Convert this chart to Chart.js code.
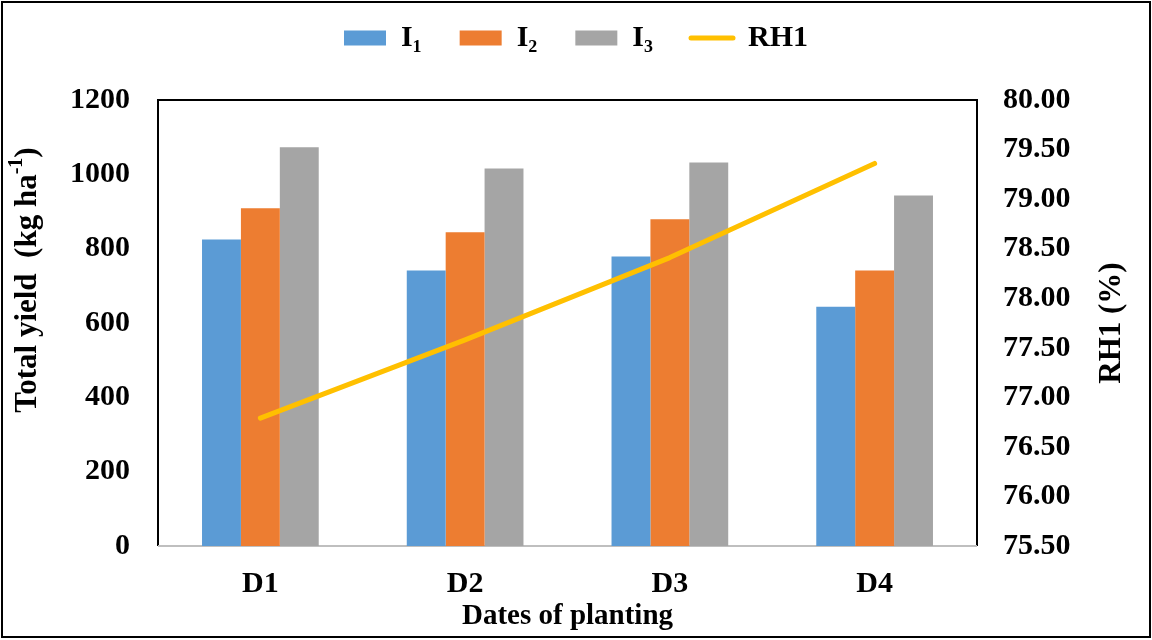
<!DOCTYPE html>
<html>
<head>
<meta charset="utf-8">
<script src="https://cdn.jsdelivr.net/npm/chart.js@4.4.1/dist/chart.umd.min.js"></script>
<style>
  html, body { margin: 0; padding: 0; background: #fff; }
  #wrap { width: 1152px; height: 640px; }
</style>
</head>
<body>
<div id="wrap"><canvas id="yieldChart" width="1152" height="640"></canvas></div>
<script>
const dates = ['D1', 'D2', 'D3', 'D4'];
const i1Yield = [825, 741, 779, 644];
const i2Yield = [909, 844, 879, 741];
const i3Yield = [1073, 1016, 1032, 943];
const rh1 = [76.79, 77.58, 78.41, 79.36];

const serif = "'Liberation Serif', 'Times New Roman', serif";

// frame, outer border and the two vertical axis titles
const framePlugin = {
    id: 'frame',
    beforeDraw(chart) {
        const c = chart.ctx;
        c.save();
        c.fillStyle = '#fff';
        c.fillRect(0, 0, chart.width, chart.height);
        c.restore();
    },
    beforeDatasetsDraw(chart) {
        const c = chart.ctx, a = chart.chartArea;
        c.save();
        c.strokeStyle = '#000';
        c.lineWidth = 2;
        c.beginPath();
        c.moveTo(a.left, a.bottom);
        c.lineTo(a.left, a.top);
        c.lineTo(a.right, a.top);
        c.lineTo(a.right, a.bottom);
        c.stroke();
        c.strokeStyle = '#BFBFBF';
        c.beginPath();
        c.moveTo(a.left, a.bottom);
        c.lineTo(a.right, a.bottom);
        c.stroke();
        c.restore();
    },
    afterDraw(chart) {
        const c = chart.ctx, a = chart.chartArea;
        c.save();
        c.strokeStyle = '#000';
        c.lineWidth = 2;
        c.strokeRect(2, 2, chart.width - 4, chart.height - 5);

        c.fillStyle = '#000';
        c.textBaseline = 'middle';

        // left title with superscript
        const main = 'bold 31px ' + serif;
        const sup = 'bold 20px ' + serif;
        const p1 = 'Total yield  (kg ha', p2 = '-1', p3 = ')';
        c.font = main; const w1 = c.measureText(p1).width, w3 = c.measureText(p3).width;
        c.font = sup; const w2 = c.measureText(p2).width;
        const total = w1 + w2 + w3;
        c.save();
        c.translate(28, 280);
        c.rotate(-Math.PI / 2);
        c.textAlign = 'left';
        let x = -total / 2;
        c.font = main; c.fillText(p1, x, 0); x += w1;
        c.font = sup; c.fillText(p2, x, -11); x += w2;
        c.font = main; c.fillText(p3, x, 0);
        c.restore();

        // right title
        c.save();
        c.translate(1112, (a.top + a.bottom) / 2);
        c.rotate(-Math.PI / 2);
        c.textAlign = 'center';
        c.font = 'bold 31px ' + serif;
        c.fillText('RH1 (%)', 0, 0);
        c.restore();
        c.restore();
    }
};

new Chart(document.getElementById('yieldChart').getContext('2d'), {
    type: 'bar',
    data: {
        labels: dates,
        datasets: [
            { label: 'I\u2081', data: i1Yield, backgroundColor: '#5B9BD5', yAxisID: 'y', order: 1 },
            { label: 'I\u2082', data: i2Yield, backgroundColor: '#ED7D31', yAxisID: 'y', order: 1 },
            { label: 'I\u2083', data: i3Yield, backgroundColor: '#A5A5A5', yAxisID: 'y', order: 1 },
            {
                type: 'line', label: 'RH1', data: rh1, yAxisID: 'y1', order: 0,
                borderColor: '#FFC000', backgroundColor: '#FFC000', borderWidth: 5,
                borderCapStyle: 'round', borderJoinStyle: 'round',
                pointRadius: 0, tension: 0, fill: false
            }
        ]
    },
    options: {
        responsive: false,
        animation: false,
        layout: { padding: { top: -15, left: 0, right: 0, bottom: 0 } },
        datasets: { bar: { barPercentage: 1, categoryPercentage: 0.57, borderWidth: 0 } },
        plugins: {
            legend: {
                position: 'top',
                labels: {
                    usePointStyle: true,
                    pointStyleWidth: 42,
                    boxHeight: 15,
                    padding: 38,
                    color: '#000',
                    font: { family: serif, size: 30, weight: 'bold' },
                    generateLabels: function(chart) {
                        return chart.data.datasets.map(function(ds, i) {
                            const isLine = ds.type === 'line';
                            return {
                                text: ds.label,
                                fillStyle: isLine ? ds.borderColor : ds.backgroundColor,
                                strokeStyle: isLine ? ds.borderColor : ds.backgroundColor,
                                lineWidth: isLine ? 5 : 0,
                                lineCap: 'round',
                                pointStyle: isLine ? 'line' : 'rect',
                                fontColor: '#000',
                                hidden: false,
                                datasetIndex: i
                            };
                        });
                    }
                }
            },
            title: {
                display: true, text: '', weight: 500,
                font: { size: 10 }, padding: { top: 0, bottom: 25 }
            },
            tooltip: { enabled: false }
        },
        scales: {
            x: {
                grid: { display: false, drawTicks: false },
                border: { display: false },
                ticks: { color: '#000', padding: 20, font: { family: serif, size: 30, weight: 'bold' } },
                title: {
                    display: true, text: 'Dates of planting', color: '#000',
                    font: { family: serif, size: 29, weight: 'bold' }, padding: { top: 0, bottom: 6 }
                },
                afterFit: function(s) { s.height = 94; }
            },
            y: {
                position: 'left', min: 0, max: 1200,
                grid: { display: false, drawTicks: false },
                border: { display: false },
                ticks: {
                    stepSize: 200, color: '#000', padding: 28,
                    font: { family: serif, size: 30, weight: 'bold' },
                    callback: function(v) { return String(v); }
                },
                afterFit: function(s) { s.width = 158; }
            },
            y1: {
                position: 'right', min: 75.5, max: 80,
                grid: { display: false, drawTicks: false },
                border: { display: false },
                ticks: {
                    stepSize: 0.5, color: '#000', padding: 26,
                    font: { family: serif, size: 30, weight: 'bold' },
                    callback: function(v) { return Number(v).toFixed(2); }
                },
                afterFit: function(s) { s.width = 175; }
            }
        }
    },
    plugins: [framePlugin]
});
</script>
</body>
</html>
